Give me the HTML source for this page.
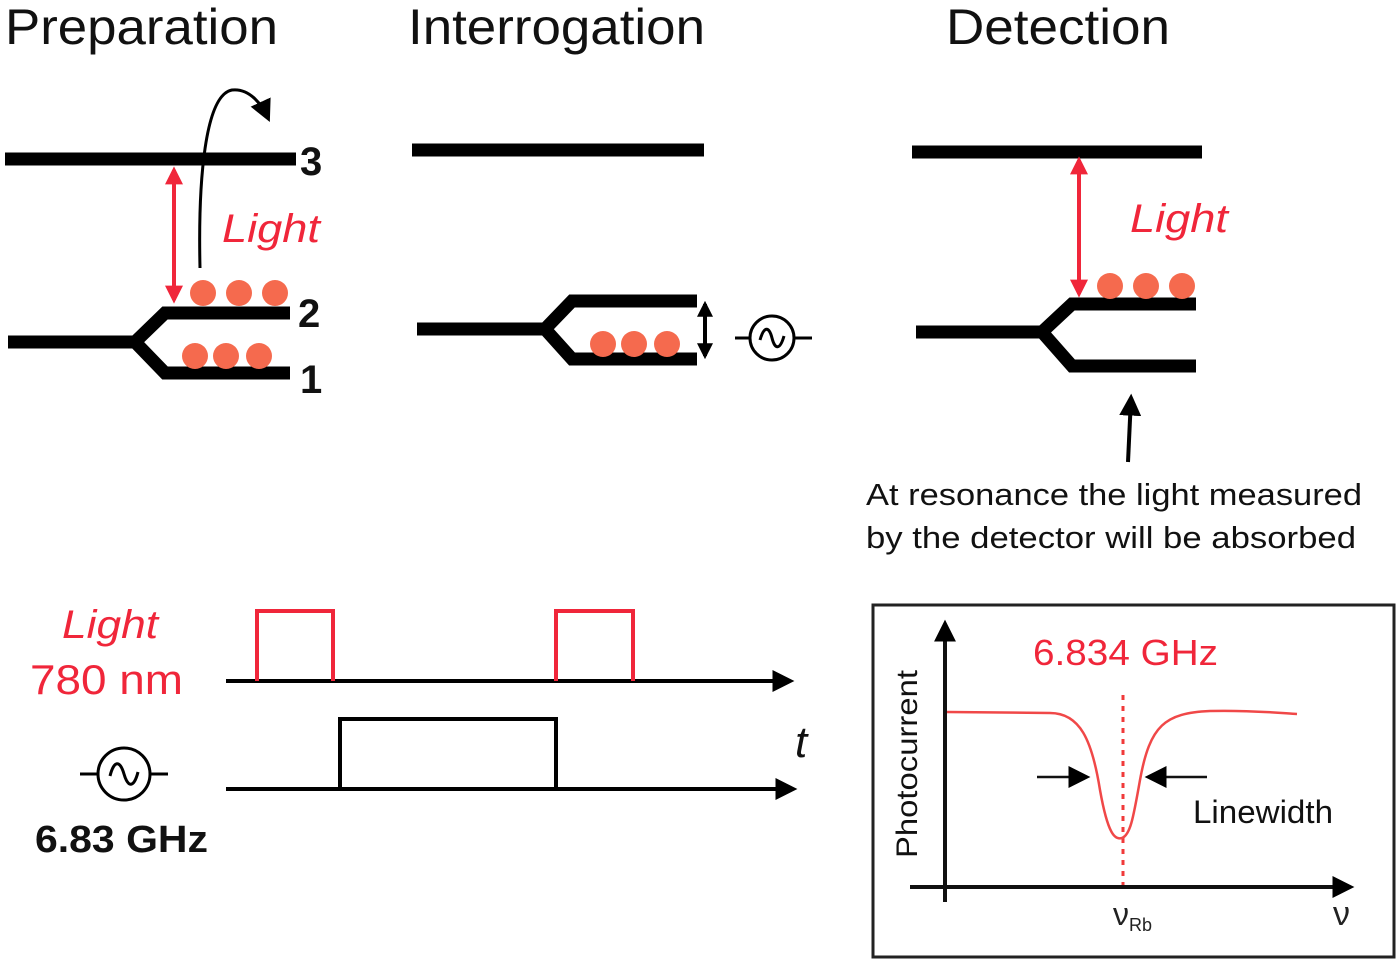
<!DOCTYPE html>
<html><head><style>body{margin:0;background:#fff}svg{display:block}text{font-family:"Liberation Sans",sans-serif}</style></head><body>
<svg width="1400" height="964" viewBox="0 0 1400 964" xmlns="http://www.w3.org/2000/svg">
<defs>
<marker id="ah" viewBox="0 0 10 10" refX="8" refY="5" markerWidth="22" markerHeight="22" orient="auto-start-reverse" markerUnits="userSpaceOnUse"><path d="M0,0 L10,5 L0,10z" fill="#000"/></marker>
<marker id="sh" viewBox="0 0 10 10" refX="8" refY="5" markerWidth="16" markerHeight="16" orient="auto-start-reverse" markerUnits="userSpaceOnUse"><path d="M0,0 L10,5 L0,10z" fill="#000"/></marker>
<marker id="rh" viewBox="0 0 10 10" refX="8" refY="5" markerWidth="18" markerHeight="18" orient="auto-start-reverse" markerUnits="userSpaceOnUse"><path d="M0,0 L10,5 L0,10z" fill="#f0263a"/></marker>
</defs>
<g font-size="50" fill="#111" lengthAdjust="spacingAndGlyphs">
<text x="5" y="44" textLength="273" lengthAdjust="spacingAndGlyphs">Preparation</text><text x="408" y="44" textLength="297" lengthAdjust="spacingAndGlyphs">Interrogation</text><text x="946" y="44" textLength="224" lengthAdjust="spacingAndGlyphs">Detection</text></g>
<g stroke="#000" stroke-width="13" fill="none">
<line x1="5" y1="159" x2="296" y2="159"/>
<path d="M8,342 H135 L165,313 H290 M135,342 L165,373 H290"/>
<line x1="412" y1="150" x2="704" y2="150"/>
<path d="M417,329 H545 L572,301 H697 M545,329 L572,359 H697"/>
<line x1="912" y1="152" x2="1202" y2="152"/>
<path d="M916,332 H1042 L1072,304 H1196 M1042,332 L1072,366 H1196"/>
</g>
<g font-size="40" font-weight="bold" fill="#111"><text x="300" y="175">3</text><text x="298" y="327">2</text><text x="300" y="393">1</text></g>
<g fill="#f56a4e">
<circle cx="203" cy="293" r="13"/><circle cx="239" cy="293" r="13"/><circle cx="275" cy="293" r="13"/>
<circle cx="195" cy="356" r="13"/><circle cx="226" cy="356" r="13"/><circle cx="259" cy="356" r="13"/>
<circle cx="603" cy="344" r="13"/><circle cx="634" cy="344" r="13"/><circle cx="667" cy="344" r="13"/>
<circle cx="1110" cy="286" r="13"/><circle cx="1146" cy="286" r="13"/><circle cx="1182" cy="286" r="13"/>
</g>
<g stroke="#f0263a" stroke-width="4"><line x1="174" y1="170" x2="174" y2="300" marker-start="url(#rh)" marker-end="url(#rh)"/>
<line x1="1079" y1="160" x2="1079" y2="294" marker-start="url(#rh)" marker-end="url(#rh)"/></g>
<g font-size="40" font-style="italic" fill="#f0263a"><text x="222" y="242" textLength="98" lengthAdjust="spacingAndGlyphs">Light</text><text x="1130" y="232" textLength="98" lengthAdjust="spacingAndGlyphs">Light</text></g>
<path d="M200,268 C198,180 205,95 232,90 C250,88 262,105 268,118" stroke="#000" stroke-width="3" fill="none" marker-end="url(#ah)"/>
<line x1="705" y1="304" x2="705" y2="356" stroke="#000" stroke-width="4" marker-start="url(#sh)" marker-end="url(#sh)"/>
<g stroke="#000" stroke-width="3" fill="none">
<circle cx="772" cy="338" r="22"/><path d="M735,338H750M794,338H812M760,340c4,-14 9,-14 12,-2s8,12 12,-2"/>
<circle cx="124" cy="774" r="26"/><path d="M80,774H98M150,774H168M110,776c4,-16 10,-16 14,-2s10,14 14,-2"/>
</g>
<line x1="1128" y1="462" x2="1131" y2="398" stroke="#000" stroke-width="4" marker-end="url(#ah)"/>
<g font-size="31" fill="#111"><text x="866" y="505" textLength="496" lengthAdjust="spacingAndGlyphs">At resonance the light measured</text><text x="866" y="548" textLength="490" lengthAdjust="spacingAndGlyphs">by the detector will be absorbed</text></g>
<text x="62" y="638" font-size="40" font-style="italic" fill="#f0263a" textLength="96" lengthAdjust="spacingAndGlyphs">Light</text>
<text x="30" y="694" font-size="42" fill="#f0263a" textLength="153" lengthAdjust="spacingAndGlyphs">780 nm</text>
<text x="35" y="852" font-size="38" font-weight="bold" fill="#111" textLength="173" lengthAdjust="spacingAndGlyphs">6.83 GHz</text>
<text x="795" y="757" font-size="44" font-style="italic" font-family="Liberation Serif" fill="#111">t</text>
<g stroke="#000" stroke-width="4" fill="none">
<line x1="226" y1="681" x2="790" y2="681" marker-end="url(#ah)"/>
<line x1="226" y1="789" x2="793" y2="789" marker-end="url(#ah)"/>
<path d="M340,789V719H556V789"/>
</g>
<path d="M257,681V611H333V681M556,681V611H633V681" stroke="#f0263a" stroke-width="4" fill="none"/>
<rect x="873" y="605" width="521" height="352" stroke="#222" stroke-width="3" fill="none"/>
<g stroke="#111" stroke-width="4" fill="none">
<line x1="945" y1="902" x2="945" y2="624" marker-end="url(#ah)"/>
<line x1="910" y1="887" x2="1350" y2="887" marker-end="url(#ah)"/>
<line x1="1037" y1="777" x2="1086" y2="777" stroke-width="2.5" marker-end="url(#ah)"/>
<line x1="1207" y1="777" x2="1149" y2="777" stroke-width="2.5" marker-end="url(#ah)"/>
</g>
<line x1="1123" y1="695" x2="1123" y2="885" stroke="#f03a3a" stroke-width="3" stroke-dasharray="5,6"/>
<path d="M947,712 L1050,713 C1080,713 1092,740 1100,790 C1108,835 1115,840 1122,838 C1130,835 1133,820 1140,780 C1150,725 1165,713 1210,711 C1250,710 1280,713 1297,714" stroke="#f04848" stroke-width="2.5" fill="none"/>
<text x="1033" y="665" font-size="36" fill="#f0263a" textLength="185" lengthAdjust="spacingAndGlyphs">6.834 GHz</text>
<text x="1193" y="823" font-size="32" fill="#111" textLength="140" lengthAdjust="spacingAndGlyphs">Linewidth</text>
<text transform="translate(917,858) rotate(-90)" font-size="30" fill="#111" textLength="188" lengthAdjust="spacingAndGlyphs">Photocurrent</text>
<text x="1113" y="925" font-size="32" font-family="Liberation Serif" fill="#222">ν<tspan font-size="18" font-family="Liberation Sans" dy="6">Rb</tspan></text>
<text x="1333" y="925" font-size="34" font-family="Liberation Serif" fill="#222">ν</text>
</svg>
</body></html>
